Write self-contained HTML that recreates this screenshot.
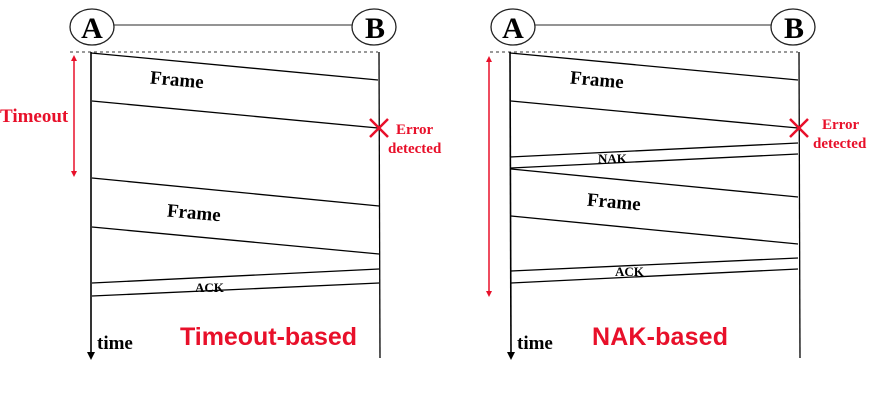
<!DOCTYPE html>
<html><head><meta charset="utf-8"><style>
html,body{margin:0;padding:0;background:#fff;}
svg{display:block;}
.lbl{font-family:"Liberation Serif",serif;font-weight:bold;fill:#000;}
.red{font-family:"Liberation Serif",serif;font-weight:bold;fill:#e8102a;}
.big{font-family:"Liberation Sans",sans-serif;font-weight:bold;fill:#e8102a;}
</style></head><body>
<svg width="872" height="409" viewBox="0 0 872 409">
<g stroke="#000" fill="none" stroke-width="1.3">
  <line x1="114" y1="25" x2="352" y2="25" stroke="#555"/>
  <ellipse cx="92" cy="27" rx="22" ry="18" stroke="#222" fill="#fff"/>
  <ellipse cx="374" cy="27" rx="22" ry="18" stroke="#222" fill="#fff"/>
  <line x1="70" y1="52" x2="378" y2="52" stroke-dasharray="3,3" stroke="#333" stroke-width="1"/>
  <line x1="91" y1="52" x2="91" y2="352" stroke-width="1.6"/>
  <path d="M87,352 L95,352 L91,360 z" fill="#000" stroke="none"/>
  <line x1="379" y1="52" x2="380" y2="358"/>
  <line x1="91" y1="53" x2="378" y2="80"/>
  <line x1="92" y1="101" x2="378" y2="128"/>
  <line x1="92" y1="178" x2="379" y2="206"/>
  <line x1="92" y1="227" x2="379" y2="254"/>
  <line x1="92" y1="283" x2="379" y2="269"/>
  <line x1="92" y1="296" x2="379" y2="283"/>
  <line x1="74" y1="57" x2="74" y2="175" stroke="#e8102a" stroke-width="1.5"/>
  <path d="M71,61 L77,61 L74,55 z M71,171 L77,171 L74,177 z" fill="#e8102a" stroke="none"/>
  <path d="M370,119 L388,137 M388,119 L370,137" stroke="#e8102a" stroke-width="2.5"/>
</g>
<text class="lbl" x="92" y="38" font-size="30" text-anchor="middle">A</text>
<text class="lbl" x="375" y="38" font-size="30" text-anchor="middle">B</text>
<text class="lbl" x="150" y="86" font-size="19" transform="rotate(5 178 80)">Frame</text>
<text class="lbl" x="167" y="219" font-size="19" transform="rotate(5 195 213)">Frame</text>
<text class="lbl" x="195" y="292" font-size="13">ACK</text>
<text class="red" x="0" y="122" font-size="19">Timeout</text>
<text class="red" x="396" y="134" font-size="15">Error</text>
<text class="red" x="388" y="153" font-size="15">detected</text>
<text class="lbl" x="97" y="349" font-size="19">time</text>
<text class="big" x="180" y="345" font-size="25" textLength="177">Timeout-based</text>

<g stroke="#000" fill="none" stroke-width="1.3">
  <line x1="535" y1="25" x2="771" y2="25" stroke="#555"/>
  <ellipse cx="513" cy="27" rx="22" ry="18" stroke="#222" fill="#fff"/>
  <ellipse cx="793" cy="27" rx="22" ry="18" stroke="#222" fill="#fff"/>
  <line x1="490" y1="52" x2="798" y2="52" stroke-dasharray="3,3" stroke="#333" stroke-width="1"/>
  <line x1="510" y1="52" x2="511" y2="352" stroke-width="1.6"/>
  <path d="M507,352 L515,352 L511,360 z" fill="#000" stroke="none"/>
  <line x1="799" y1="52" x2="800" y2="358"/>
  <line x1="510" y1="53" x2="798" y2="80"/>
  <line x1="511" y1="101" x2="798" y2="128"/>
  <line x1="510" y1="157" x2="798" y2="143"/>
  <line x1="511" y1="168" x2="798" y2="154"/>
  <line x1="511" y1="169" x2="798" y2="197"/>
  <line x1="511" y1="216" x2="798" y2="244"/>
  <line x1="511" y1="271" x2="798" y2="258"/>
  <line x1="511" y1="283" x2="798" y2="269"/>
  <line x1="489" y1="58" x2="489" y2="295" stroke="#e8102a" stroke-width="1.5"/>
  <path d="M486,62 L492,62 L489,56 z M486,291 L492,291 L489,297 z" fill="#e8102a" stroke="none"/>
  <path d="M790,119 L808,137 M808,119 L790,137" stroke="#e8102a" stroke-width="2.5"/>
</g>
<text class="lbl" x="513" y="38" font-size="30" text-anchor="middle">A</text>
<text class="lbl" x="794" y="38" font-size="30" text-anchor="middle">B</text>
<text class="lbl" x="570" y="86" font-size="19" transform="rotate(5 598 80)">Frame</text>
<text class="lbl" x="587" y="208" font-size="19" transform="rotate(5 614 202)">Frame</text>
<text class="lbl" x="598" y="163" font-size="13">NAK</text>
<text class="lbl" x="615" y="276" font-size="13">ACK</text>
<text class="red" x="822" y="129" font-size="15">Error</text>
<text class="red" x="813" y="148" font-size="15">detected</text>
<text class="lbl" x="517" y="349" font-size="19">time</text>
<text class="big" x="592" y="345" font-size="25" textLength="136">NAK-based</text>
</svg>
</body></html>
